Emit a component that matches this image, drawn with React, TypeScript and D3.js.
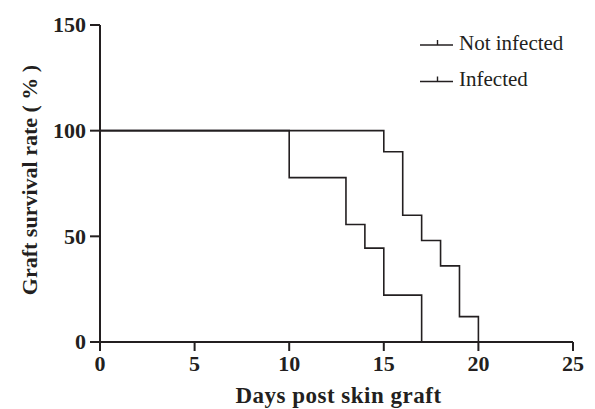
import React from 'react';
import * as d3 from 'd3';

// Kaplan-Meier steps: day at which survival drops, survival (%) after the drop
const notInfectedDays = [0, 15, 16, 17, 18, 19, 20];
const notInfectedSurv = [100, 90, 60, 48, 36, 12, 0];
const infectedDays = [0, 10, 13, 14, 15, 17];
const infectedSurv = [100, 77.8, 55.6, 44.4, 22.2, 0];

const xTicks = [0, 5, 10, 15, 20, 25];
const yTicks = [0, 50, 100, 150];
const legendLabels = ['Not infected', 'Infected'];

const W = 595;
const H = 409;
const margin = { top: 25, right: 22, bottom: 67, left: 100 };
const ink = '#231f20';

const App = () => {
  const x = d3.scaleLinear().domain([0, 25]).range([margin.left, W - margin.right]);
  const y = d3.scaleLinear().domain([0, 150]).range([H - margin.bottom, margin.top]);

  const line = d3.line<[number, number]>()
    .x(d => x(d[0]))
    .y(d => y(d[1]))
    .curve(d3.curveStepAfter);

  const toPts = (days: number[], surv: number[]): [number, number][] =>
    days.map((d, i) => [d, surv[i]] as [number, number]);

  const series = [toPts(notInfectedDays, notInfectedSurv), toPts(infectedDays, infectedSurv)];

  const font = '"Liberation Serif", "Times New Roman", serif';

  return (
    <svg width={W} height={H} style={{ position: 'absolute', left: 0, top: 0, background: '#fff' }}
      fontFamily={font}>
      {series.map((s, i) => (
        <path key={i} d={line(s) || ''} fill="none" stroke={ink} strokeWidth={1.6} />
      ))}

      {/* y axis */}
      <line x1={x(0)} x2={x(0)} y1={y(0)} y2={y(150)} stroke={ink} strokeWidth={2} />
      {yTicks.map(t => (
        <g key={t}>
          <line x1={x(0) - 10} x2={x(0)} y1={y(t)} y2={y(t)} stroke={ink} strokeWidth={2} />
          <text x={x(0) - 14} y={y(t)} dy="0.34em" textAnchor="end" fontSize={22} fontWeight="bold" fill={ink}>{t}</text>
        </g>
      ))}

      {/* x axis */}
      <line x1={x(0)} x2={x(25)} y1={y(0)} y2={y(0)} stroke={ink} strokeWidth={2} />
      {xTicks.map(t => (
        <g key={t}>
          <line x1={x(t)} x2={x(t)} y1={y(0)} y2={y(0) + 9} stroke={ink} strokeWidth={2} />
          <text x={x(t)} y={y(0) + 29} textAnchor="middle" fontSize={22} fontWeight="bold" fill={ink}>{t}</text>
        </g>
      ))}

      <text x={(x(0) + x(25)) / 2 + 2} y={403} textAnchor="middle" fontSize={23} fontWeight="bold"
        letterSpacing={0.5} fill={ink}>
        Days post skin graft
      </text>
      <text transform={`translate(37, 180) rotate(-90)`} textAnchor="middle"
        fontSize={22} fontWeight="bold" fill={ink}>
        Graft survival rate ( % )
      </text>

      {/* legend */}
      {legendLabels.map((lab, i) => {
        const ly = 45 + i * 36.5;
        return (
          <g key={lab}>
            <line x1={420} x2={453} y1={ly} y2={ly} stroke={ink} strokeWidth={1.6} />
            <line x1={437.5} x2={437.5} y1={ly - 5} y2={ly} stroke={ink} strokeWidth={1.4} />
            <text x={459} y={ly + 4.5} fontSize={21} fill={ink}>{lab}</text>
          </g>
        );
      })}
    </svg>
  );
};

export default App;
